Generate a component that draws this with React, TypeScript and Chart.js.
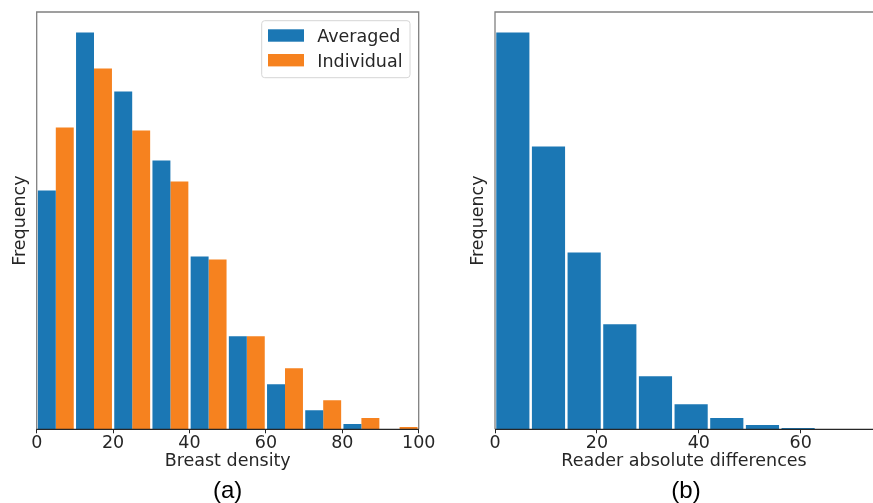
import React, { useEffect, useRef } from "react";
import { Chart, registerables } from "chart.js";

Chart.register(...registerables);

const FONT = "'DejaVu Sans', 'Noto Sans', sans-serif";
const CAPTION_FONT = "'Liberation Sans', Arial, sans-serif";
const TEXT = "#262626";
const SPINE = "#808080";
const BLUE = "#1b77b4";
const ORANGE = "#f6821f";
const FS = 17.5;

// ---- Panel (a): breast density histogram ----
const densityBinStarts = [0, 10, 20, 30, 40, 50, 60, 70, 80, 90];
const densityBinWidth = 10;
const averagedFreq = [239, 397, 338, 269, 173, 93, 45, 19, 5.3, 0];
const individualFreq = [302, 361, 299, 248, 170, 93, 61, 29, 11.3, 2.3];
const densityRange = [0, 100];
const densityTickStep = 20;

// ---- Panel (b): reader absolute differences histogram ----
const diffBinStarts = [0, 7, 14, 21, 28, 35, 42, 49, 56, 63];
const diffBinWidth = 7;
const diffFreq = [397, 283, 177, 105, 53, 25, 11.3, 4.3, 1.3, 0.3];
const diffRange = [0, 74.2];
const diffTickStep = 20;

const freqMax = 417.5;

const spinesPlugin = {
  id: "spines",
  afterDatasetsDraw(chart: any, _args: any, opts: any) {
    const { ctx, chartArea: a } = chart;
    ctx.save();
    ctx.lineWidth = 1.3;
    ctx.strokeStyle = SPINE;
    ctx.beginPath();
    ctx.moveTo(a.left, a.bottom);
    ctx.lineTo(a.left, a.top);
    ctx.lineTo(a.right, a.top);
    if (opts && opts.right) ctx.lineTo(a.right, a.bottom);
    ctx.stroke();
    ctx.strokeStyle = TEXT;
    ctx.beginPath();
    ctx.moveTo(a.left, a.bottom);
    ctx.lineTo(a.right, a.bottom);
    ctx.stroke();
    ctx.restore();
  },
};

const captionPlugin = {
  id: "caption",
  afterDraw(chart: any, _args: any, opts: any) {
    if (!opts || !opts.text) return;
    const { ctx, chartArea: a } = chart;
    ctx.save();
    ctx.font = `24px ${CAPTION_FONT}`;
    ctx.fillStyle = "#000";
    ctx.textAlign = "center";
    ctx.textBaseline = "alphabetic";
    ctx.fillText(opts.text, (a.left + a.right) / 2 + (opts.dx || 0), opts.y);
    ctx.restore();
  },
};

const boxLegendPlugin = {
  id: "boxLegend",
  afterDraw(chart: any, _args: any, opts: any) {
    if (!opts || !opts.show) return;
    const { ctx, chartArea: a } = chart;
    const w = 148.3;
    const h = 57;
    const x0 = a.right - 8.7 - w;
    const y0 = a.top + 8.7;
    ctx.save();
    const r = 3;
    ctx.beginPath();
    ctx.moveTo(x0 + r, y0);
    ctx.lineTo(x0 + w - r, y0);
    ctx.arcTo(x0 + w, y0, x0 + w, y0 + r, r);
    ctx.lineTo(x0 + w, y0 + h - r);
    ctx.arcTo(x0 + w, y0 + h, x0 + w - r, y0 + h, r);
    ctx.lineTo(x0 + r, y0 + h);
    ctx.arcTo(x0, y0 + h, x0, y0 + h - r, r);
    ctx.lineTo(x0, y0 + r);
    ctx.arcTo(x0, y0, x0 + r, y0, r);
    ctx.closePath();
    ctx.fillStyle = "rgba(255,255,255,0.85)";
    ctx.fill();
    ctx.lineWidth = 1;
    ctx.strokeStyle = "#d6d6d6";
    ctx.stroke();
    chart.data.datasets.forEach((ds: any, i: number) => {
      const ry = y0 + 8.6 + i * 24.7;
      ctx.fillStyle = ds.backgroundColor;
      ctx.fillRect(x0 + 6.3, ry, 36, 12.4);
      ctx.fillStyle = TEXT;
      ctx.font = `${FS}px ${FONT}`;
      ctx.textAlign = "left";
      ctx.textBaseline = "alphabetic";
      ctx.fillText(ds.label, x0 + 55.6, ry + 12.6);
    });
    ctx.restore();
  },
};

function makeOptions(p: {
  xTitle: string;
  xRange: number[];
  step: number;
  yWidth: number;
  yTitlePad: number;
  padRight: number;
  caption: string;
  captionDx: number;
  rightSpine: boolean;
  legend: boolean;
  categoryPercentage: number;
}): any {
  return {
    type: "bar",
    responsive: false,
    animation: false,
    events: [],
    layout: { padding: { left: 0, right: p.padRight, top: 12, bottom: 0 } },
    plugins: {
      legend: { display: false },
      tooltip: { enabled: false },
      spines: { right: p.rightSpine },
      caption: { text: p.caption, y: 497.5, dx: p.captionDx },
      boxLegend: { show: p.legend },
    },
    datasets: {
      bar: {
        categoryPercentage: p.categoryPercentage,
        barPercentage: 1,
        borderWidth: 0,
      },
    },
    scales: {
      x: {
        type: "linear",
        min: p.xRange[0],
        max: p.xRange[1],
        offset: false,
        ticks: {
          stepSize: p.step,
          includeBounds: false,
          color: TEXT,
          padding: 0,
          maxRotation: 0,
          font: { family: FONT, size: FS },
        },
        grid: {
          display: true,
          offset: false,
          drawOnChartArea: false,
          drawTicks: true,
          tickLength: 4,
          tickColor: TEXT,
          tickWidth: 1,
        },
        border: { display: false },
        title: {
          display: true,
          text: p.xTitle,
          color: TEXT,
          font: { family: FONT, size: FS },
          padding: { top: 0, bottom: 30.8 },
        },
        afterFit: (s: any) => {
          s.height = 73.7;
        },
      },
      y: {
        type: "linear",
        min: 0,
        max: freqMax,
        ticks: { display: false },
        grid: { display: false },
        border: { display: false },
        title: {
          display: true,
          text: "Frequency",
          color: TEXT,
          font: { family: FONT, size: FS },
          padding: { top: p.yTitlePad, bottom: 0 },
        },
        afterFit: (s: any) => {
          s.width = p.yWidth;
        },
      },
    },
  };
}

function Panel(props: { width: number; left: number; build: () => any }) {
  const ref = useRef<HTMLCanvasElement | null>(null);
  useEffect(() => {
    if (!ref.current) return;
    const cfg = props.build();
    const chart = new Chart(ref.current, cfg);
    return () => chart.destroy();
  }, []);
  return (
    <canvas
      ref={ref}
      width={props.width}
      height={503}
      style={{
        position: "absolute",
        left: props.left,
        top: 0,
        width: props.width,
        height: 503,
        display: "block",
      }}
    />
  );
}

function buildDensity(): any {
  const opts = makeOptions({
    xTitle: "Breast density",
    xRange: densityRange,
    step: densityTickStep,
    yWidth: 36.7,
    yTitlePad: 10.0,
    padRight: 21.3,
    caption: "(a)",
    captionDx: 0,
    rightSpine: true,
    legend: true,
    categoryPercentage: 0.94,
  });
  return {
    type: "bar",
    data: {
      datasets: [
        {
          label: "Averaged",
          backgroundColor: BLUE,
          data: densityBinStarts.map((s, i) => ({
            x: s + densityBinWidth / 2,
            y: averagedFreq[i],
          })),
        },
        {
          label: "Individual",
          backgroundColor: ORANGE,
          data: densityBinStarts.map((s, i) => ({
            x: s + densityBinWidth / 2,
            y: individualFreq[i],
          })),
        },
      ],
    },
    options: opts,
    plugins: [spinesPlugin, captionPlugin, boxLegendPlugin],
  };
}

function buildDiff(): any {
  const opts = makeOptions({
    xTitle: "Reader absolute differences",
    xRange: diffRange,
    step: diffTickStep,
    yWidth: 55,
    yTitlePad: 27.8,
    padRight: 0,
    caption: "(b)",
    captionDx: 2,
    rightSpine: false,
    legend: false,
    categoryPercentage: 0.93,
  });
  return {
    type: "bar",
    data: {
      datasets: [
        {
          label: "Reader absolute differences",
          backgroundColor: BLUE,
          data: diffBinStarts.map((s, i) => ({
            x: s + diffBinWidth / 2,
            y: diffFreq[i],
          })),
        },
      ],
    },
    options: opts,
    plugins: [spinesPlugin, captionPlugin, boxLegendPlugin],
  };
}

export default function App() {
  return (
    <div
      style={{
        position: "fixed",
        left: 0,
        top: 0,
        width: 873,
        height: 503,
        overflow: "hidden",
        background: "#fff",
      }}
    >
      <Panel width={440} left={0} build={buildDensity} />
      <Panel width={433} left={440} build={buildDiff} />
    </div>
  );
}
